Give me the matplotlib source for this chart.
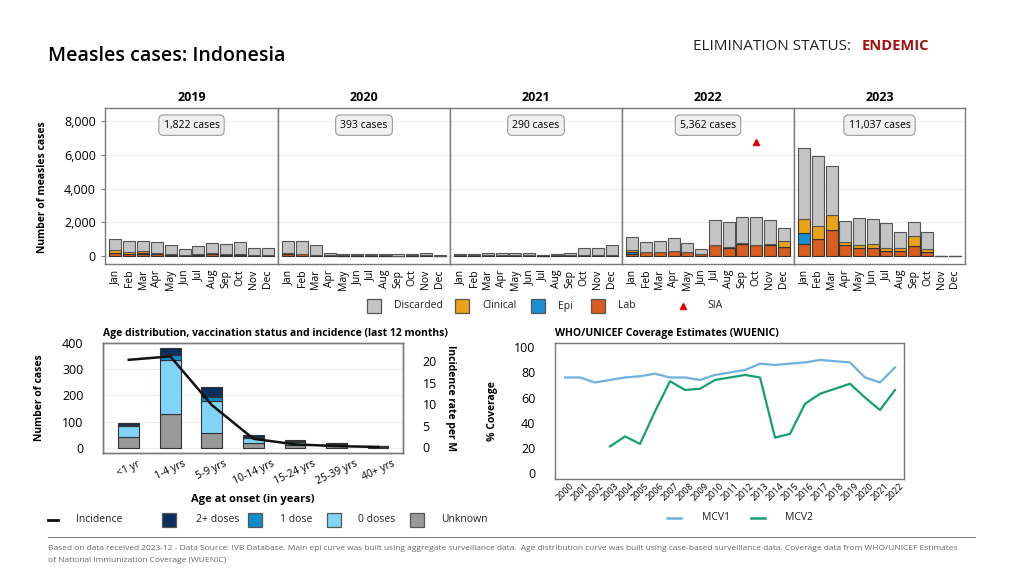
import matplotlib
matplotlib.use("Agg")
import matplotlib.pyplot as plt
import numpy as np
from matplotlib.patches import Rectangle
from matplotlib.lines import Line2D

plt.rcParams["font.family"] = ["Open Sans", "DejaVu Sans"]

# ---- data: monthly epi curve -------------------------------------------
years = ["2019", "2020", "2021", "2022", "2023"]
months = ["Jan", "Feb", "Mar", "Apr", "May", "Jun", "Jul", "Aug", "Sep", "Oct", "Nov", "Dec"]
case_totals = ["1,822 cases", "393 cases", "290 cases", "5,362 cases", "11,037 cases"]

lab = {
    "2019": [130, 80, 120, 90, 60, 30, 50, 70, 60, 50, 20, 30],
    "2020": [80, 70, 40, 8, 5, 5, 5, 5, 4, 5, 8, 4],
    "2021": [10, 10, 15, 15, 15, 15, 5, 10, 15, 20, 20, 25],
    "2022": [110, 220, 220, 280, 220, 90, 620, 470, 700, 620, 610, 490],
    "2023": [700, 1000, 1500, 660, 460, 460, 290, 260, 560, 200, 0, 0],
}
epi = {
    "2019": [10, 10, 10, 5, 5, 0, 5, 5, 5, 5, 0, 5],
    "2020": [5, 5, 3, 0, 0, 0, 0, 0, 0, 0, 0, 0],
    "2021": [0, 0, 0, 0, 0, 0, 0, 0, 0, 0, 0, 0],
    "2022": [100, 0, 0, 0, 0, 0, 0, 0, 0, 0, 0, 20],
    "2023": [640, 0, 0, 0, 0, 0, 0, 0, 0, 0, 0, 0],
}
clinical = {
    "2019": [190, 130, 170, 90, 60, 30, 50, 100, 60, 60, 20, 30],
    "2020": [70, 50, 20, 2, 2, 2, 2, 2, 2, 2, 2, 2],
    "2021": [10, 10, 10, 10, 10, 10, 5, 10, 10, 10, 10, 10],
    "2022": [100, 0, 0, 0, 0, 0, 30, 40, 30, 40, 110, 380],
    "2023": [860, 760, 940, 140, 180, 220, 140, 180, 580, 200, 0, 0],
}
discarded = {
    "2019": [650, 640, 560, 615, 515, 320, 475, 565, 595, 705, 400, 395],
    "2020": [745, 735, 577, 150, 93, 93, 93, 93, 74, 93, 150, 34],
    "2021": [80, 80, 135, 155, 135, 135, 50, 80, 135, 410, 410, 605],
    "2022": [810, 600, 660, 780, 540, 310, 1470, 1490, 1550, 1660, 1400, 750],
    "2023": [4240, 4200, 2900, 1240, 1600, 1480, 1510, 960, 860, 980, 0, 0],
}
sia_year, sia_month, sia_level = "2022", "Oct", 6800

# ---- data: age distribution (last 12 months) ---------------------------
age_groups = ["<1 yr", "1-4 yrs", "5-9 yrs", "10-14 yrs", "15-24 yrs", "25-39 yrs", "40+ yrs"]
age_unknown = [40, 130, 55, 17, 10, 10, 4]
age_zero = [45, 205, 124, 22, 11, 5, 1]
age_one = [2, 20, 15, 3, 3, 2, 1]
age_two = [6, 27, 38, 5, 4, 3, 0]
incidence = [20.3, 21.1, 9.8, 2.0, 0.7, 0.3, 0.1]

# ---- data: WUENIC coverage ---------------------------------------------
cov_years = list(range(2000, 2023))
mcv1 = [76, 76, 72, 74, 76, 77, 79, 76, 76, 74, 78, 80, 82, 87, 86, 87, 88, 90, 89, 88, 76, 72, 84]
mcv2 = [None, None, None, 21, 29, 23, 49, 73, 66, 67, 74, 76, 78, 76, 28, 31, 55, 63, 67, 71, 60, 50, 66]

C_DISC = "#c4c4c4"
C_CLIN = "#e8a317"
C_EPI = "#1a8fd0"
C_LAB = "#d95d1e"
C_TWO = "#0b2e5c"
C_ONE = "#0d8ccb"
C_ZERO = "#7fd4f8"
C_UNK = "#999999"
C_MCV1 = "#6eb0e0"
C_MCV2 = "#15a06e"
EDGE = "#333333"
FRAME = "#7a7a7a"

W, H = 1024, 576
fig = plt.figure(figsize=(W / 100, H / 100), dpi=100)


def px_axes(left, top, right, bottom):
    return fig.add_axes([left / W, 1 - bottom / H, (right - left) / W, (bottom - top) / H])


def style_frame(ax):
    for sp in ax.spines.values():
        sp.set_color(FRAME)
        sp.set_linewidth(1)


def fig_text(x, y, s, **kw):
    fig.text(x / W, 1 - y / H, s, **kw)


def legend_square(x, y, color, label, size=14, gap=13, fs=7.5):
    fig.add_artist(Rectangle(((x) / W, 1 - (y + size / 2) / H), size / W, size / H,
                             transform=fig.transFigure, facecolor=color, edgecolor="#555555", lw=0.9))
    fig_text(x + size + gap, y, label, fontsize=fs, va="center", ha="left", color="#222222")


def legend_line(x0, x1, y, color, label, text_x, lw=2, fs=7.5):
    fig.add_artist(Line2D([x0 / W, x1 / W], [1 - y / H, 1 - y / H], transform=fig.transFigure,
                          color=color, lw=lw))
    fig_text(text_x, y, label, fontsize=fs, va="center", ha="left", color="#222222")


# ---- header ------------------------------------------------------------
fig_text(48, 56, "Measles cases: Indonesia", fontsize=14, fontweight="semibold", va="center")
fig_text(693, 46, "ELIMINATION STATUS:", fontsize=11, va="center", color="#222222")
fig_text(862, 46, "ENDEMIC", fontsize=10.5, va="center", color="#a30d0d", fontweight="bold")

# ---- epi curve ---------------------------------------------------------
edges = [105, 278, 450, 622, 794, 965]
x = np.arange(len(months))
for i, yr in enumerate(years):
    ax = px_axes(edges[i], 108, edges[i + 1], 264)
    b_lab = np.array(lab[yr])
    b_epi = np.array(epi[yr])
    b_cli = np.array(clinical[yr])
    b_dis = np.array(discarded[yr])
    bw = 0.86
    ax.bar(x, b_lab, bw, color=C_LAB, edgecolor=EDGE, lw=0.8, zorder=3)
    ax.bar(x, b_epi, bw, bottom=b_lab, color=C_EPI, edgecolor=EDGE, lw=0.8, zorder=3)
    ax.bar(x, b_cli, bw, bottom=b_lab + b_epi, color=C_CLIN, edgecolor=EDGE, lw=0.8, zorder=3)
    ax.bar(x, b_dis, bw, bottom=b_lab + b_epi + b_cli, color=C_DISC, edgecolor="#555555", lw=0.8, zorder=3)
    if yr == sia_year:
        ax.plot(months.index(sia_month), sia_level, marker="^", color="#e00000", ms=4, ls="none", zorder=4)
    ax.set_xlim(-0.75, 11.75)
    ax.set_ylim(-500, 8800)
    ax.set_yticks([0, 2000, 4000, 6000, 8000])
    ax.grid(axis="y", color="#eeeeee", lw=0.8, zorder=0)
    ax.set_xticks(x)
    ax.set_xticklabels(months, rotation=90, fontsize=7.5)
    ax.tick_params(axis="x", length=0, pad=4)
    if i == 0:
        ax.set_yticklabels(["0", "2,000", "4,000", "6,000", "8,000"], fontsize=9)
        ax.tick_params(axis="y", length=3, color=FRAME)
    else:
        ax.tick_params(axis="y", length=0, labelleft=False)
    style_frame(ax)
    ax.set_title(yr, fontsize=9, fontweight="bold", pad=5)
    ax.text(0.5, 0.89, case_totals[i], transform=ax.transAxes, ha="center", va="center", fontsize=7.5,
            bbox=dict(boxstyle="round,pad=0.45", fc="#f0f0f0", ec="#9a9a9a", lw=0.8), zorder=5)

fig_text(43, 187, "Number of measles cases", rotation=90, fontsize=7.5, fontweight="bold",
         ha="center", va="center")

legend_square(367, 306, C_DISC, "Discarded")
legend_square(455, 306, C_CLIN, "Clinical")
legend_square(531, 306, C_EPI, "Epi")
legend_square(591, 306, C_LAB, "Lab")
fig.add_artist(Line2D([683 / W], [1 - 306 / H], transform=fig.transFigure, marker="^", color="#e00000",
                      ms=4, ls="none"))
fig_text(707, 306, "SIA", fontsize=7.5, va="center", color="#222222")

# ---- age distribution --------------------------------------------------
ax2 = px_axes(103, 343, 403, 453)
xa = np.arange(len(age_groups))
u = np.array(age_unknown)
z = np.array(age_zero)
o = np.array(age_one)
t = np.array(age_two)
bw = 0.5
ax2.bar(xa, u, bw, color=C_UNK, edgecolor=EDGE, lw=0.8, zorder=3)
ax2.bar(xa, z, bw, bottom=u, color=C_ZERO, edgecolor=EDGE, lw=0.8, zorder=3)
ax2.bar(xa, o, bw, bottom=u + z, color=C_ONE, edgecolor=EDGE, lw=0.8, zorder=3)
ax2.bar(xa, t, bw, bottom=u + z + o, color=C_TWO, edgecolor=EDGE, lw=0.8, zorder=3)
ax2.set_xlim(-0.62, 6.6)
ax2.set_ylim(-20, 400)
ax2.set_yticks([0, 100, 200, 300, 400])
ax2.tick_params(axis="y", labelsize=9, length=0, pad=14)
ax2.set_xticks(xa)
ax2.set_xticklabels(age_groups, rotation=25, fontsize=7.5, ha="center")
ax2.tick_params(axis="x", length=0, pad=4)
ax2.grid(axis="y", color="#eeeeee", lw=0.8, zorder=0)
style_frame(ax2)
ax2.set_ylabel("Number of cases", fontsize=7.5, fontweight="bold", labelpad=12)
ax2.set_xlabel("Age at onset (in years)", fontsize=8, fontweight="bold", labelpad=5)
ax2.set_title("Age distribution, vaccination status and incidence (last 12 months)", fontsize=7.5,
              fontweight="bold", loc="left", pad=5)

ax2r = ax2.twinx()
ax2r.plot(xa, incidence, color="#111111", lw=1.8, zorder=5)
ax2r.set_ylim(-1.3, 24.2)
ax2r.set_yticks([0, 5, 10, 15, 20])
ax2r.tick_params(axis="y", labelsize=9, length=0, pad=14)
style_frame(ax2r)
ax2r.set_ylabel("Incidence rate per M", rotation=-90, fontsize=7.5, fontweight="bold", labelpad=14)

legend_line(48, 58, 520, "#111111", "Incidence", 76)
legend_square(162, 520, C_TWO, "2+ doses", gap=20)
legend_square(248, 520, C_ONE, "1 dose", gap=18)
legend_square(327, 520, C_ZERO, "0 doses", gap=17)
legend_square(410, 520, C_UNK, "Unknown", gap=17)

# ---- WUENIC -----------------------------------------------------------
ax3 = px_axes(555, 343, 904, 479)
m2 = np.array([np.nan if v is None else v for v in mcv2], dtype=float)
ax3.plot(cov_years, mcv1, color=C_MCV1, lw=1.6)
ax3.plot(cov_years, m2, color=C_MCV2, lw=1.6)
ax3.set_xlim(1999.33, 2022.6)
ax3.set_ylim(-5, 103.5)
ax3.set_yticks([0, 20, 40, 60, 80, 100])
ax3.tick_params(axis="y", labelsize=9, length=0, pad=14)
ax3.set_xticks(cov_years)
ax3.set_xticklabels([str(y) for y in cov_years], rotation=45, fontsize=6.5, ha="center")
ax3.tick_params(axis="x", length=0, pad=2)
style_frame(ax3)
ax3.set_ylabel("% Coverage", fontsize=7.5, fontweight="bold", labelpad=12)
ax3.set_title("WHO/UNICEF Coverage Estimates (WUENIC)", fontsize=7.5, fontweight="bold", loc="left", pad=5)

legend_line(667, 681, 518, C_MCV1, "MCV1", 702, lw=1.8)
legend_line(751, 765, 518, C_MCV2, "MCV2", 785, lw=1.8)

# ---- footer -----------------------------------------------------------
fig.add_artist(Line2D([48 / W, 975 / W], [1 - 537 / H, 1 - 537 / H], transform=fig.transFigure,
                      color="#888888", lw=0.8))
fig_text(48, 549, "Based on data received 2023-12 - Data Source: IVB Database. Main epi curve was built using "
         "aggregate surveillance data.  Age distribution curve was built using case-based surveillance data. "
         "Coverage data from WHO/UNICEF Estimates", fontsize=6.0, color="#666666", va="center")
fig_text(48, 560, "of National Immunization Coverage (WUENIC)", fontsize=6.0, color="#666666", va="center")

fig.savefig("out.png", dpi=100)
